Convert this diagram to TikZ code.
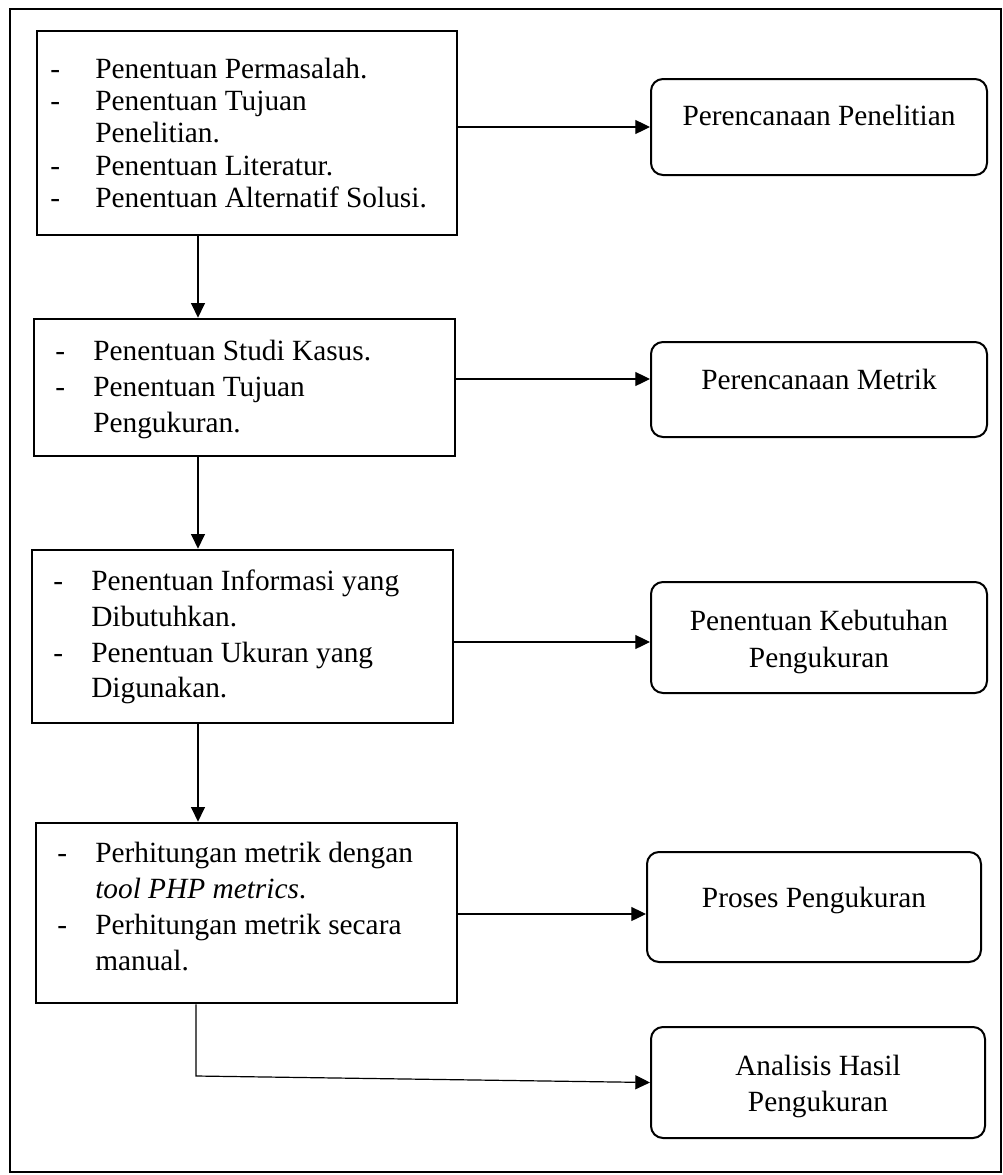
\documentclass[tikz,border=0pt]{standalone}
\usepackage{fontspec}
\setmainfont{Liberation Serif}
\usetikzlibrary{arrows.meta}
\begin{document}
\begin{tikzpicture}[x=0.75pt,y=-0.75pt,
  every node/.style={font=\fontsize{22}{26}\selectfont},
  frame/.style={draw, line width=1.5pt},
  lbox/.style={draw, line width=2pt, inner sep=0pt},
  rbox/.style={draw, line width=1.5pt, rounded corners=9pt, inner sep=0pt},
  conn/.style={line width=0.9pt, -{Triangle[length=11pt,width=10.5pt]}},
  txt/.style={anchor=base west, inner sep=0pt},
  ctxt/.style={anchor=base, inner sep=0pt}]
\useasboundingbox (0,0) rectangle (1003,1175);
\draw[frame] (10,9) rectangle (1001,1172);

% activity boxes on the left
\node[lbox, minimum width=315pt, minimum height=153pt] (b1) at (247,133) {};
\node[lbox, minimum width=315.75pt, minimum height=102.75pt] (b2) at (244.5,387.5) {};
\node[lbox, minimum width=315.75pt, minimum height=129.75pt] (b3) at (242.5,636.5) {};
\node[lbox, minimum width=315.75pt, minimum height=135pt] (b4) at (246.5,913) {};

% phase boxes on the right
\node[rbox, minimum width=252pt, minimum height=72pt] (rr1) at (819,127) {};
\node[rbox, minimum width=252pt, minimum height=71.25pt] (rr2) at (819,389.5) {};
\node[rbox, minimum width=252pt, minimum height=83.25pt] (rr3) at (819,637.5) {};
\node[rbox, minimum width=250.5pt, minimum height=82.5pt] (rr4) at (814,907) {};
\node[rbox, minimum width=250.5pt, minimum height=83.25pt] (rr5) at (818,1082.5) {};

% box 1 text
\node[txt] (d11) at (50,78) {-};
\node[txt] (t11) at (95,78) {Penentuan Permasalah.};
\node[txt] (d12) at (50,110.4) {-};
\node[txt] (t12) at (95,110.4) {Penentuan Tujuan};
\node[txt] (t13) at (95,142.8) {Penelitian.};
\node[txt] (d14) at (50,175.2) {-};
\node[txt] (t14) at (95,175.2) {Penentuan Literatur.};
\node[txt] (d15) at (50,207.6) {-};
\node[txt] (t15) at (95,207.6) {Penentuan Alternatif Solusi.};

% box 2 text
\node[txt] (d21) at (55,360) {-};
\node[txt] (t21) at (93,360) {Penentuan Studi Kasus.};
\node[txt] (d22) at (55,396) {-};
\node[txt] (t22) at (93,396) {Penentuan Tujuan};
\node[txt] (t23) at (93,432) {Pengukuran.};

% box 3 text
\node[txt] (d31) at (53,590) {-};
\node[txt] (t31) at (91,590) {Penentuan Informasi yang};
\node[txt] (t32) at (91,626) {Dibutuhkan.};
\node[txt] (d33) at (53,662) {-};
\node[txt] (t33) at (91,662) {Penentuan Ukuran yang};
\node[txt] (t34) at (91,697) {Digunakan.};

% box 4 text
\node[txt] (d41) at (57,862) {-};
\node[txt] (t41) at (95,862) {Perhitungan metrik dengan};
\node[txt] (t42) at (95,898) {\textit{tool PHP metrics}.};
\node[txt] (d43) at (57,934) {-};
\node[txt] (t43) at (95,934) {Perhitungan metrik secara};
\node[txt] (t44) at (95,970) {manual.};

% phase labels
\node[ctxt] (l1) at (819,125) {Perencanaan Penelitian};
\node[ctxt] (l2) at (819,389) {Perencanaan Metrik};
\node[ctxt] (l3a) at (819,630) {Penentuan Kebutuhan};
\node[ctxt] (l3b) at (819,667) {Pengukuran};
\node[ctxt] (l4) at (814,907) {Proses Pengukuran};
\node[ctxt] (l5a) at (818,1075) {Analisis Hasil};
\node[ctxt] (l5b) at (818,1111) {Pengukuran};

% connectors between activities
\draw[conn] (b1.south -| 198,0) -- (b2.north -| 198,0);
\draw[conn] (b2.south -| 198,0) -- (b3.north -| 198,0);
\draw[conn] (b3.south -| 198,0) -- (b4.north -| 198,0);

% connectors to phases
\draw[conn] (b1.east |- rr1.west) -- (rr1.west);
\draw[conn] (b2.east |- 0,379) -- (rr2.west |- 0,379);
\draw[conn] (b3.east |- 0,642) -- (rr3.west |- 0,642);
\draw[conn] (b4.east |- 0,914) -- (rr4.west |- 0,914);
\coordinate (bend) at (196,1076);
\draw[conn] (b4.south -| bend) -- (bend) -- (rr5.west);
\end{tikzpicture}
\end{document}
